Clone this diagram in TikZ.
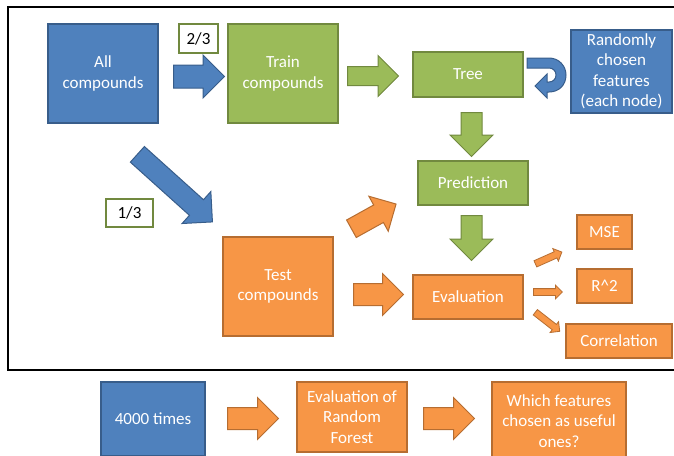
\documentclass[tikz,border=0pt]{standalone}
\usepackage{fontspec}
\setmainfont{Carlito}
\usetikzlibrary{shapes.arrows}
\definecolor{BoxBlue}{HTML}{4F81BD}
\definecolor{EdgeBlue}{HTML}{385D8A}
\definecolor{BoxGreen}{HTML}{9BBB59}
\definecolor{EdgeGreen}{HTML}{71893F}
\definecolor{BoxOrange}{HTML}{F79646}
\definecolor{EdgeOrange}{HTML}{B66D31}

\begin{document}
\begin{tikzpicture}[
    x=1pt, y=-1pt,
    box/.style={rectangle, line width=1.2pt, text=white, align=center, inner sep=1pt, font=\fontsize{17}{20.5}\selectfont},
    bluebox/.style={box, fill=BoxBlue, draw=EdgeBlue},
    greenbox/.style={box, fill=BoxGreen, draw=EdgeGreen},
    orangebox/.style={box, fill=BoxOrange, draw=EdgeOrange},
    frac/.style={rectangle, line width=1.2pt, draw=EdgeGreen, fill=white, font=\fontsize{17}{20}\selectfont},
    % shaft width = 2*inner ysep, head width = shaft + 2*head extend
    blockarrow/.style={single arrow, anchor=tail, inner xsep=0pt, inner ysep=10.5pt, line width=1pt, minimum height=51pt, single arrow head extend=10pt},
    smallarrow/.style={blockarrow, minimum height=29pt, inner ysep=3pt, single arrow head extend=3.5pt, line width=0.8pt},
    bluearrow/.style={blockarrow, fill=BoxBlue, draw=EdgeBlue},
    greenarrow/.style={blockarrow, fill=BoxGreen, draw=EdgeGreen, inner ysep=9.5pt, single arrow head extend=11pt},
    orangearrow/.style={blockarrow, fill=BoxOrange, draw=EdgeOrange}
]
\useasboundingbox (0,0) rectangle (674,455);

% Frame round one run of the forest
\draw[line width=2pt] (8,7) rectangle (700,370);

% Boxes inside the frame
\node[bluebox, minimum width=110pt, minimum height=99pt] (all) at (103,73.5) {All\\compounds};
\node[greenbox, minimum width=110pt, minimum height=99pt] (train) at (283,73.5) {Train\\compounds};
\node[greenbox, minimum width=110pt, minimum height=45pt] (tree) at (468,74.5) {Tree};
\node[bluebox, minimum width=101pt, minimum height=83pt] (feat) at (621.5,71.5) {Randomly\\chosen\\features\\(each node)};
\node[greenbox, minimum width=110pt, minimum height=44pt] (pred) at (473,183) {Prediction};
\node[orangebox, minimum width=110pt, minimum height=99pt] (test) at (278,286.5) {Test\\compounds};
\node[orangebox, minimum width=110pt, minimum height=44pt] (eval) at (468,297) {Evaluation};
\node[orangebox, minimum width=55pt, minimum height=34pt] (mse) at (604.5,232) {MSE};
\node[orangebox, minimum width=55pt, minimum height=34pt] (rsq) at (604.5,286) {R\^{}2};
\node[orangebox, minimum width=106pt, minimum height=34pt] (corr) at (619,341) {Correlation};

% Split fractions
\node[frac, minimum width=39pt, minimum height=29pt] (frac23) at (198.5,38.5) {2/3};
\node[frac, minimum width=47pt, minimum height=28pt] (frac13) at (129.5,213) {1/3};

% Block arrows
\node[bluearrow, inner ysep=11pt] (a1) at (173,76.5) {};
\node[bluearrow, inner ysep=10pt, single arrow head extend=11pt, minimum height=101pt] (a2) at (137,154) [rotate=-42] {};
\node[greenarrow, inner ysep=9pt] (a3) at (347,76) {};
\node[greenarrow, inner ysep=10pt, minimum height=44pt] (a4) at (471.5,112) [rotate=-90] {};
\node[greenarrow, inner ysep=10pt, minimum height=45pt] (a5) at (471.5,215) [rotate=-90] {};
\node[orangearrow, inner ysep=9.5pt] (a6) at (351,229) [rotate=29] {};
\node[orangearrow, minimum height=50pt] (a7) at (353,294.5) {};

% Small arrows to the scores
\node[smallarrow, fill=BoxOrange, draw=EdgeOrange] (s1) at (535,264) [rotate=24] {};
\node[smallarrow, fill=BoxOrange, draw=EdgeOrange] (s2) at (533,292) {};
\node[smallarrow, fill=BoxOrange, draw=EdgeOrange, minimum height=31pt] (s3) at (535,312) [rotate=-38] {};

% Curl from the tree to the chosen features
\draw[fill=BoxBlue, draw=EdgeBlue, line width=1pt]
    (527,58) -- (549,58) .. controls (559,58) and (566,66) .. (566,75)
    .. controls (566,85) and (559,92) .. (549,92) -- (547,92) -- (547,98)
    -- (535,86) -- (547,74) -- (547,82) -- (549,82)
    .. controls (553,82) and (556,79) .. (556,75)
    .. controls (556,71) and (553,68) .. (549,68) -- (527,68) -- cycle;

% Row below the frame
\node[bluebox, minimum width=104pt, minimum height=74pt] (times) at (153,419) {4000 times};
\node[orangebox, minimum width=110pt, minimum height=70pt] (evalrf) at (352,417) {Evaluation of\\Random\\Forest};
\node[orangebox, minimum width=134pt, minimum height=78pt] (which) at (559,421) {Which features\\chosen as useful\\ones?};
\node[orangearrow] (b1) at (227,418.5) {};
\node[orangearrow] (b2) at (423,418.5) {};

\end{tikzpicture}
\end{document}
